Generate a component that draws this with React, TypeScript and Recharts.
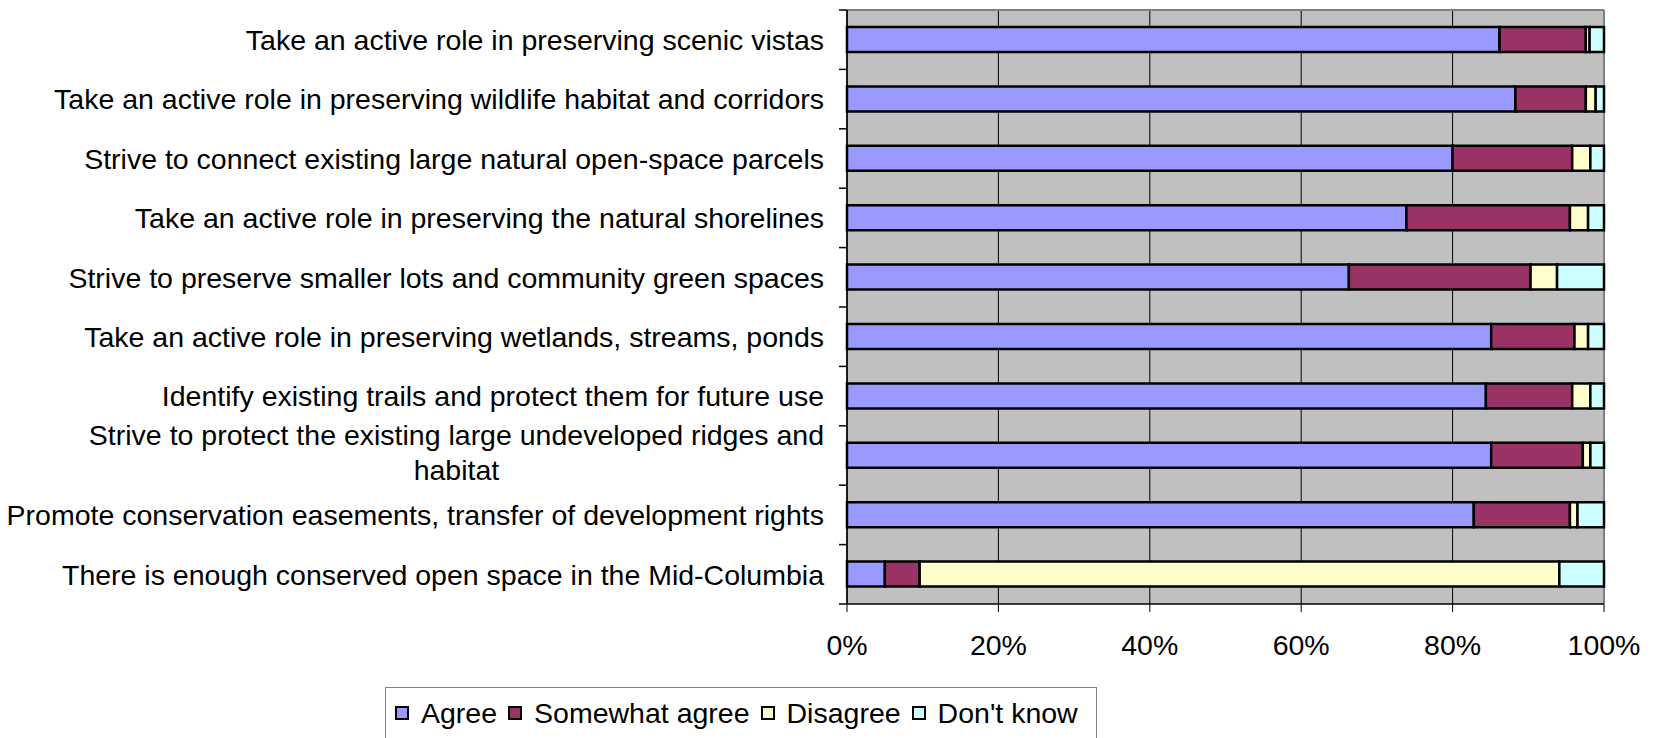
import { BarChart, Bar, XAxis, YAxis, CartesianGrid, Legend } from 'recharts';

// survey statements, top to bottom ("\n" marks the wrapped label)
const categories = [
  'Take an active role in preserving scenic vistas',
  'Take an active role in preserving wildlife habitat and corridors',
  'Strive to connect existing large natural open-space parcels',
  'Take an active role in preserving the natural shorelines',
  'Strive to preserve smaller lots and community green spaces',
  'Take an active role in preserving wetlands, streams, ponds',
  'Identify existing trails and protect them for future use',
  'Strive to protect the existing large undeveloped ridges and\nhabitat',
  'Promote conservation easements, transfer of development rights',
  'There is enough conserved open space in the Mid-Columbia',
];

// percentages
const agree = [86.2, 88.3, 80.0, 73.9, 66.3, 85.1, 84.4, 85.1, 82.8, 5.0];
const somewhatAgree = [11.4, 9.3, 15.8, 21.6, 24.0, 11.0, 11.4, 12.1, 12.7, 4.6];
const disagree = [0.5, 1.3, 2.4, 2.4, 3.5, 1.8, 2.4, 1.0, 1.0, 84.5];
const dontKnow = [1.9, 1.1, 1.8, 2.1, 6.2, 2.1, 1.8, 1.8, 3.5, 5.9];

const xTicks = [0, 20, 40, 60, 80, 100];

const seriesNames = ['Agree', 'Somewhat agree', 'Disagree', "Don't know"];
const seriesColors = ['#9999FF', '#993366', '#FFFFCC', '#CCFFFF'];

const CHART_W = 1654;
const CHART_H = 738;
const MARGIN = { top: 10, right: 50, bottom: 94, left: 0 };
const X_AXIS_H = 40;
const Y_AXIS_W = 847;
const TICK_SIZE = 8;
const TICK_MARGIN = 15;
const FONT = '"Liberation Sans", Arial, sans-serif';
const FONT_SIZE = 28.5;
const LINE_H = 35;

const PLOT_H = CHART_H - MARGIN.top - MARGIN.bottom - X_AXIS_H;

const data = categories.map((name, i) => ({
  name,
  [seriesNames[0]]: agree[i],
  [seriesNames[1]]: somewhatAgree[i],
  [seriesNames[2]]: disagree[i],
  [seriesNames[3]]: dontKnow[i],
}));

let ctx: CanvasRenderingContext2D | null = null;
function textWidth(s: string) {
  if (!ctx) {
    ctx = document.createElement('canvas').getContext('2d');
  }
  if (!ctx) return s.length * FONT_SIZE * 0.5;
  ctx.font = `${FONT_SIZE}px ${FONT}`;
  return ctx.measureText(s).width;
}

function CategoryTick(props: any) {
  const { x, y, payload, index } = props;
  const lines = String(payload.value).split('\n');
  const axisX = x + TICK_SIZE + TICK_MARGIN;
  const band = PLOT_H / categories.length;
  const wrapped = lines.length > 1;
  const w = wrapped ? Math.max(...lines.map(textWidth)) : 0;

  return (
    <g>
      <line x1={axisX - TICK_SIZE} x2={axisX} y1={y - band / 2} y2={y - band / 2} stroke="#000" strokeWidth={1.5} />
      {index === categories.length - 1 && (
        <line x1={axisX - TICK_SIZE} x2={axisX} y1={y + band / 2} y2={y + band / 2} stroke="#000" strokeWidth={1.5} />
      )}
      {lines.map((line, i) => (
        <text
          key={i}
          x={wrapped ? x - w / 2 : x}
          y={y + (i - (lines.length - 1) / 2) * LINE_H - (wrapped ? 3 : 0)}
          dy="0.36em"
          textAnchor={wrapped ? 'middle' : 'end'}
          fontSize={FONT_SIZE}
          fontFamily={FONT}
          fill="#000"
        >
          {line}
        </text>
      ))}
    </g>
  );
}

function LegendBox() {
  return (
    <div
      style={{
        boxSizing: 'border-box',
        width: 712,
        height: 52,
        border: '1px solid #808080',
        background: '#fff',
        display: 'flex',
        alignItems: 'center',
        paddingLeft: 9,
        fontFamily: FONT,
        fontSize: FONT_SIZE,
        color: '#000',
        whiteSpace: 'nowrap',
      }}
    >
      {seriesNames.map((name, i) => (
        <div key={name} style={{ display: 'flex', alignItems: 'center', marginRight: 11 }}>
          <span
            style={{
              display: 'inline-block',
              width: 10,
              height: 10,
              border: '2px solid #000',
              background: seriesColors[i],
              marginRight: 12,
            }}
          />
          <span>{name}</span>
        </div>
      ))}
    </div>
  );
}

export default function App() {
  return (
    <div style={{ position: 'absolute', left: 0, top: 0, width: CHART_W, height: CHART_H, background: '#fff' }}>
      <BarChart width={CHART_W} height={CHART_H} data={data} layout="vertical" margin={MARGIN}>
        <CartesianGrid fill="#C0C0C0" horizontal={false} stroke="#000" strokeWidth={1} />
        <CartesianGrid
          fill="none"
          stroke="#808080"
          strokeWidth={2}
          horizontalCoordinatesGenerator={({ offset }: any) => [offset.top]}
          verticalCoordinatesGenerator={({ offset }: any) => [offset.left + offset.width]}
        />
        <XAxis
          type="number"
          domain={[0, 100]}
          ticks={xTicks}
          height={X_AXIS_H}
          tickFormatter={(v) => `${v}%`}
          tick={{ fontSize: FONT_SIZE, fontFamily: FONT, fill: '#000' }}
          tickSize={TICK_SIZE}
          tickMargin={23}
          axisLine={{ stroke: '#000', strokeWidth: 1.5 }}
          tickLine={{ stroke: '#000', strokeWidth: 1 }}
        />
        <YAxis
          type="category"
          dataKey="name"
          width={Y_AXIS_W}
          interval={0}
          tick={<CategoryTick />}
          tickSize={TICK_SIZE}
          tickMargin={TICK_MARGIN}
          tickLine={false}
          axisLine={{ stroke: '#000', strokeWidth: 1.5 }}
        />
        <Legend
          layout="horizontal"
          verticalAlign="middle"
          align="center"
          content={() => <LegendBox />}
          wrapperStyle={{ left: 385, top: 687, width: 712, height: 52 }}
        />
        {seriesNames.map((name, i) => (
          <Bar
            key={name}
            dataKey={name}
            stackId="a"
            fill={seriesColors[i]}
            stroke="#000"
            strokeWidth={2.5}
            barSize={25}
            isAnimationActive={false}
          />
        ))}
      </BarChart>
    </div>
  );
}
